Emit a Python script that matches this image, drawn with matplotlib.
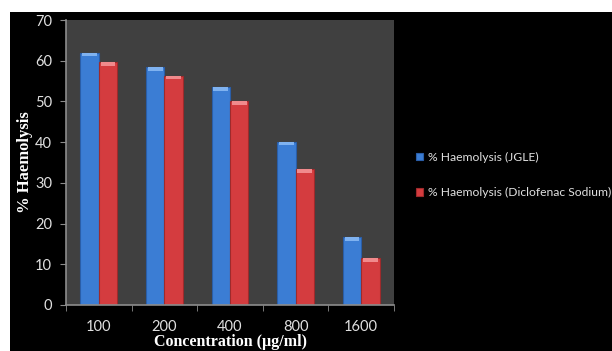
import matplotlib
matplotlib.use("Agg")
import matplotlib.pyplot as plt
import numpy as np
from matplotlib.patches import Rectangle

# Haemolysis data per concentration
concentrations = ["100", "200", "400", "800", "1600"]
jgle = [62.0, 58.4, 53.5, 40.1, 16.6]
diclofenac = [59.6, 56.3, 50.0, 33.3, 11.5]
series_labels = ["% Haemolysis (JGLE)", "% Haemolysis (Diclofenac Sodium)"]

BLUE = "#3b7dd4"
BLUE_EDGE = "#2a5ea8"
RED = "#d43c3f"
RED_EDGE = "#9e2a2c"
AXIS_GRAY = "#8c8c8c"
TEXT = "#e0e0e0"

fig = plt.figure(figsize=(6.12, 3.51), dpi=100)
fig.patch.set_facecolor("white")
# black panel behind everything
fig.patches.append(Rectangle((10 / 612, 0), 1, 1 - 12 / 351, transform=fig.transFigure,
                             facecolor="black", edgecolor="none", zorder=-10))

ax = fig.add_axes([66 / 612, 46 / 351, 328 / 612, 285 / 351])
ax.set_facecolor("#404040")

x = np.arange(len(concentrations))
w = 0.28
ax.bar(x - w / 2, jgle, w, color=BLUE, edgecolor=BLUE_EDGE, linewidth=0.8,
       label=series_labels[0], zorder=2)
ax.bar(x + w / 2, diclofenac, w, color=RED, edgecolor=RED_EDGE, linewidth=0.8,
       label=series_labels[1], zorder=2)

# light bevel on top of each bar
cap = 0.9
ax.bar(x - w / 2, cap, w * 0.8, bottom=np.array(jgle) - cap, color="#7fb2f0",
       linewidth=0, zorder=3)
ax.bar(x + w / 2, cap, w * 0.8, bottom=np.array(diclofenac) - cap, color="#f08a8c",
       linewidth=0, zorder=3)

ax.set_xlim(-0.5, len(concentrations) - 0.5)
ax.set_ylim(0, 70)
ax.set_yticks(range(0, 71, 10))
ax.set_xticks(x)
ax.set_xticklabels(concentrations)
ax.set_xticks(np.arange(-0.5, len(concentrations)), minor=True)
ax.tick_params(axis="x", which="major", length=0, pad=11)
ax.tick_params(axis="x", which="minor", length=4, color=AXIS_GRAY, direction="out")
ax.tick_params(axis="y", length=4, color=AXIS_GRAY, direction="out", pad=6)
for lab in ax.get_xticklabels() + ax.get_yticklabels():
    lab.set_color(TEXT)
    lab.set_fontsize(10.5)
    lab.set_family("Lato")

for side in ["top", "right"]:
    ax.spines[side].set_visible(False)
for side in ["left", "bottom"]:
    ax.spines[side].set_color(AXIS_GRAY)
    ax.spines[side].set_linewidth(1.2)

ax.set_ylabel("% Haemolysis", color="white", fontsize=12, fontweight="bold",
              family="Liberation Serif", va="center")
ax.yaxis.set_label_coords(-0.125, 0.503)
ax.set_xlabel("Concentration (µg/ml)", color="white", fontsize=11.5, fontweight="bold",
              family="Liberation Serif", va="center")
ax.xaxis.set_label_coords(0.503, -0.13)

leg = ax.legend(loc="center left", bbox_to_anchor=(405 / 612, 176 / 351),
                bbox_transform=fig.transFigure, frameon=False, handlelength=0.6,
                handleheight=0.6, handletextpad=0.4, labelspacing=2.0,
                prop={"family": "Lato", "size": 8.7})
for t in leg.get_texts():
    t.set_color(TEXT)

fig.savefig("out.png", dpi=100, facecolor=fig.get_facecolor())
